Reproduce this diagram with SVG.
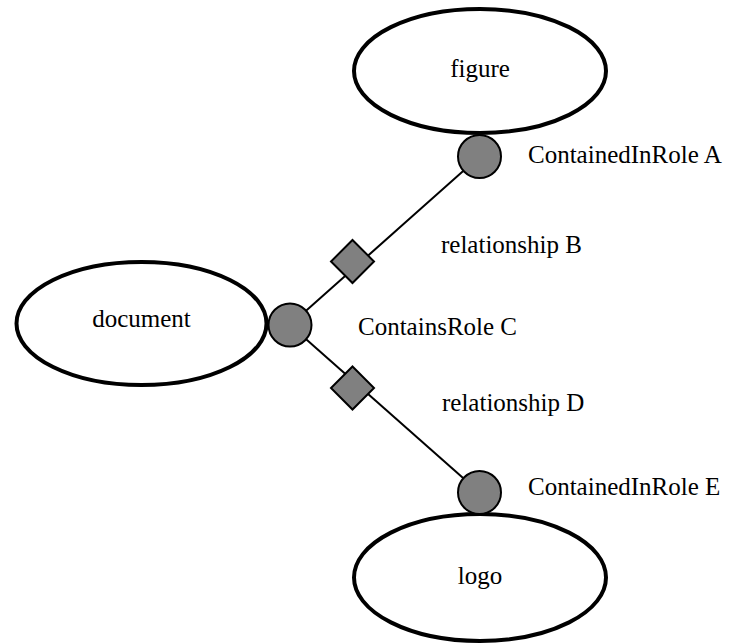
<svg xmlns="http://www.w3.org/2000/svg" width="730" height="644" viewBox="0 0 730 644">
<style>
.ent{fill:#fff;stroke:#000;stroke-width:4}
.role{fill:#808080;stroke:#000;stroke-width:2}
.rel{fill:#808080;stroke:#000;stroke-width:2}
.conn{stroke:#000;stroke-width:2;fill:none}
text{font-family:"Liberation Serif","Times New Roman",serif;font-size:25px;fill:#000}
.c{text-anchor:middle}
</style>
<rect width="730" height="644" fill="#fff"/>
<g id="connectors">
<line class="conn" x1="290" y1="325" x2="479.5" y2="156.5"/>
<line class="conn" x1="290" y1="325" x2="479.5" y2="492.5"/>
</g>
<g id="figure"><ellipse class="ent" cx="480" cy="71" rx="126" ry="62"/><text class="c" x="480" y="77">figure</text></g>
<g id="document"><ellipse class="ent" cx="141.5" cy="323.5" rx="125" ry="61.5"/><text class="c" x="141.5" y="327">document</text></g>
<g id="logo"><ellipse class="ent" cx="480" cy="577.5" rx="126" ry="63.5"/><text class="c" x="480" y="584">logo</text></g>
<g id="roleA"><circle class="role" cx="479.5" cy="156.5" r="21.5"/><text x="528" y="163">ContainedInRole A</text></g>
<g id="relB"><polygon class="rel" points="352.5,240 374,261.5 352.5,283 331,261.5"/><text x="441" y="253">relationship B</text></g>
<g id="roleC"><circle class="role" cx="290" cy="325" r="21.5"/><text x="358" y="335">ContainsRole C</text></g>
<g id="relD"><polygon class="rel" points="352.5,366.5 374,388 352.5,409.5 331,388"/><text x="442" y="411">relationship D</text></g>
<g id="roleE"><circle class="role" cx="479.5" cy="492.5" r="21.5"/><text x="528" y="495">ContainedInRole E</text></g>
</svg>
